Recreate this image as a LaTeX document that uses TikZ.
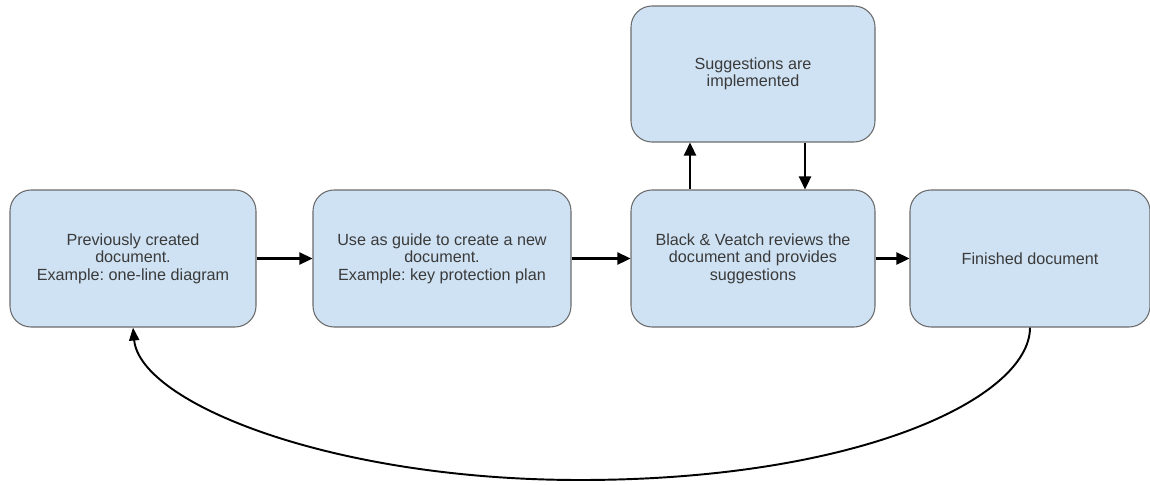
\documentclass[tikz,border=0pt]{standalone}
\usepackage{fontspec}
\setmainfont{Liberation Sans}
\usepackage{tikz}
\usepackage{xcolor}
\usetikzlibrary{arrows.meta}

\definecolor{boxfill}{HTML}{CFE2F3}
\definecolor{boxline}{HTML}{6B6B6B}
\definecolor{boxtext}{HTML}{3A3A3A}

\tikzset{
    stepbox/.style={draw=boxline, fill=boxfill, line width=0.6pt, rounded corners=0.42cm,
        minimum height=2.74cm, align=center, text=boxtext,
        font=\fontsize{9.2}{10}\selectfont\frenchspacing, inner sep=2pt},
    flow/.style={->, line width=1.4pt, >={Triangle[length=2.6mm,width=2.4mm]}}
}

\begin{document}
\begin{tikzpicture}
    \useasboundingbox (0,0) rectangle (23,-9.7);

    \node[stepbox, minimum width=4.92cm] (prev) at (2.66,-5.17) {Previously created\\document.\\Example: one-line diagram};
    \node[stepbox, minimum width=5.16cm] (guide) at (8.84,-5.17) {Use as guide to create a new\\document.\\Example: key protection plan};
    \node[stepbox, minimum width=4.88cm] (review) at (15.06,-5.17) {Black \& Veatch reviews the\\document and provides\\suggestions};
    \node[stepbox, minimum width=4.88cm, minimum height=2.72cm] (impl) at (15.06,-1.48) {Suggestions are\\implemented};
    \node[stepbox, minimum width=4.8cm] (done) at (20.6,-5.17) {Finished document};

    \draw[flow] (prev) -- (guide);
    \draw[flow] (guide) -- (review);
    \draw[flow] (review) -- (done);
    \draw[flow] (review.north -| 13.8,0) -- (impl.south -| 13.8,0);
    \draw[flow] (impl.south -| 16.1,0) -- (review.north -| 16.1,0);

    % back to the start
    \coordinate (low) at (11.6,-9.6);
    \draw[->, line width=1.1pt, >={Triangle[length=2.6mm,width=2mm]}]
        (done.south) .. controls +(0,-1.4) and +(5.6,0) .. (low)
        .. controls +(-5,0) and +(0.14,-1.5) .. (prev.south);

\end{tikzpicture}
\end{document}
